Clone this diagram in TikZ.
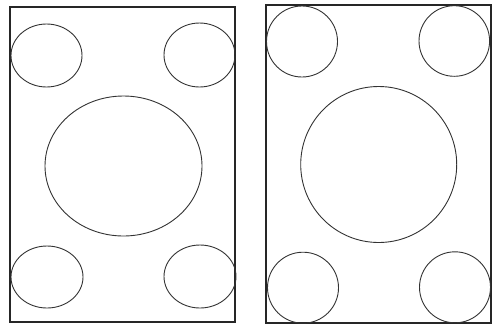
\documentclass[tikz,border=0pt]{standalone}
\begin{document}
\begin{tikzpicture}[x=1pt,y=-1pt,
  frame/.style={draw=black!85,line width=1.4pt},
  hole/.style={draw=black!80,line width=0.9pt}]
\useasboundingbox (0,0) rectangle (497,325);
% left panel
\draw[frame] (10,7) rectangle (235,322);
\draw[hole] (46.5,55.5) ellipse [x radius=35.5,y radius=31.5];
\draw[hole] (199.5,55) ellipse [x radius=35.5,y radius=32];
\draw[hole] (47,277) ellipse [x radius=36,y radius=31];
\draw[hole] (200,276.5) ellipse [x radius=36,y radius=31.5];
\draw[hole] (123.5,166) ellipse [x radius=78.5,y radius=70];
% right panel
\draw[frame] (266,5) rectangle (491,323);
\draw[hole] (302,41.5) circle [radius=35.5];
\draw[hole] (454.3,41) circle [radius=35.3];
\draw[hole] (303,287.7) circle [radius=35.5];
\draw[hole] (455,287.3) circle [radius=35.5];
\draw[hole] (378.7,164.5) circle [radius=78];
\end{tikzpicture}
\end{document}
